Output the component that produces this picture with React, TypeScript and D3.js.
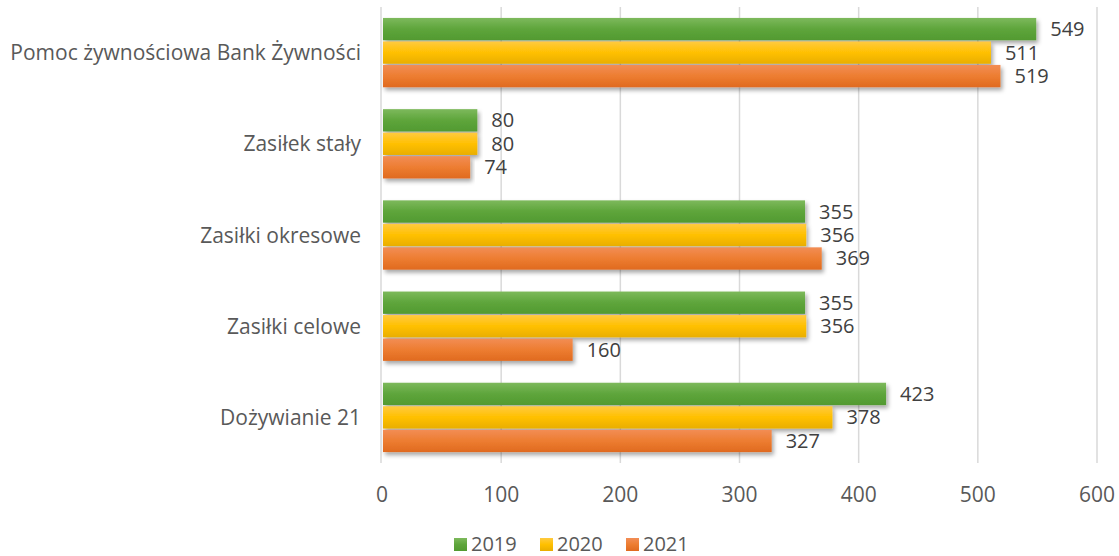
import { useEffect, useRef } from "react";
import * as d3 from "d3";

const categories = [
  "Pomoc żywnościowa Bank Żywności",
  "Zasiłek stały",
  "Zasiłki okresowe",
  "Zasiłki celowe",
  "Dożywianie 21",
];
const years = ["2019", "2020", "2021"];
const values2019 = [549, 80, 355, 355, 423];
const values2020 = [511, 80, 356, 356, 378];
const values2021 = [519, 74, 369, 160, 327];
const xTicks = [0, 100, 200, 300, 400, 500, 600];

const series = [values2019, values2020, values2021];
const colors = [
  ["#7db95c", "#5ea53b", "#529a31"],
  ["#ffca40", "#ffc000", "#e9ae00"],
  ["#f28d55", "#ed7d31", "#e06a1f"],
];

export default function App() {
  const ref = useRef<SVGSVGElement | null>(null);

  useEffect(() => {
    document.body.style.margin = "0";
    const width = 1119;
    const height = 556;
    const margin = { top: 7, right: 22, bottom: 93, left: 382 };
    const font = "'Open Sans', sans-serif";
    const fs = 21;

    const svg = d3.select(ref.current);
    svg.selectAll("*").remove();

    const defs = svg.append("defs");
    colors.forEach((c, i) => {
      const g = defs
        .append("linearGradient")
        .attr("id", `grad${i}`)
        .attr("x1", 0)
        .attr("y1", 0)
        .attr("x2", 0)
        .attr("y2", 1);
      g.append("stop").attr("offset", "0%").attr("stop-color", c[0]);
      g.append("stop").attr("offset", "50%").attr("stop-color", c[1]);
      g.append("stop").attr("offset", "100%").attr("stop-color", c[2]);
    });
    const filter = defs
      .append("filter")
      .attr("id", "shadow")
      .attr("x", "-5%")
      .attr("y", "-30%")
      .attr("width", "110%")
      .attr("height", "170%");
    filter
      .append("feDropShadow")
      .attr("dx", 2)
      .attr("dy", 3)
      .attr("stdDeviation", 2)
      .attr("flood-color", "#000")
      .attr("flood-opacity", 0.35);

    const x = d3
      .scaleLinear()
      .domain([0, 600])
      .range([margin.left, width - margin.right]);

    const y = d3
      .scaleBand()
      .domain(categories)
      .range([margin.top, height - margin.bottom])
      .paddingInner(0.24)
      .paddingOuter(0.12);

    const inner = d3
      .scaleBand()
      .domain(years)
      .range([0, y.bandwidth()])
      .paddingInner(0.05);

    // gridlines
    svg
      .append("g")
      .selectAll("line")
      .data(xTicks.slice(1))
      .join("line")
      .attr("x1", (d) => x(d))
      .attr("x2", (d) => x(d))
      .attr("y1", margin.top)
      .attr("y2", height - margin.bottom)
      .attr("stroke", "#d9d9d9")
      .attr("stroke-width", 1.5);

    svg
      .append("line")
      .attr("x1", x(0) - 1)
      .attr("x2", x(0) - 1)
      .attr("y1", margin.top)
      .attr("y2", height - margin.bottom)
      .attr("stroke", "#d9d9d9")
      .attr("stroke-width", 1.5);

    // bars
    series.forEach((vals, si) => {
      const g = svg.append("g");
      g.selectAll("rect")
        .data(vals)
        .join("rect")
        .attr("x", x(0) + 1)
        .attr("y", (_, i) => (y(categories[i]) ?? 0) + (inner(years[si]) ?? 0))
        .attr("width", (d) => x(d) - x(0) - 1)
        .attr("height", inner.bandwidth())
        .attr("fill", `url(#grad${si})`)
        .attr("filter", "url(#shadow)");
    });

    // value labels
    series.forEach((vals, si) => {
      svg
        .append("g")
        .selectAll("text")
        .data(vals)
        .join("text")
        .attr("x", (d) => x(d) + 14)
        .attr(
          "y",
          (_, i) =>
            (y(categories[i]) ?? 0) + (inner(years[si]) ?? 0) + inner.bandwidth() / 2
        )
        .attr("dy", "0.35em")
        .attr("font-family", font)
        .attr("font-size", 20)
        .attr("fill", "#404040")
        .text((d) => d);
    });

    // category labels
    svg
      .append("g")
      .selectAll("text")
      .data(categories)
      .join("text")
      .attr("x", margin.left - 21)
      .attr("y", (d) => (y(d) ?? 0) + y.bandwidth() / 2)
      .attr("dy", "0.36em")
      .attr("text-anchor", "end")
      .attr("font-family", font)
      .attr("font-size", fs)
      .attr("fill", "#595959")
      .text((d) => d);

    // x tick labels
    svg
      .append("g")
      .selectAll("text")
      .data(xTicks)
      .join("text")
      .attr("x", (d) => x(d))
      .attr("y", height - margin.bottom + 39)
      .attr("text-anchor", "middle")
      .attr("font-family", font)
      .attr("font-size", fs)
      .attr("fill", "#595959")
      .text((d) => d);

    // legend
    const legendX = [454, 540, 626];
    const legend = svg
      .append("g")
      .selectAll("g")
      .data(years)
      .join("g")
      .attr("transform", (_, i) => `translate(${legendX[i]},${height - 12})`);
    legend
      .append("rect")
      .attr("x", 0)
      .attr("y", -6)
      .attr("width", 13)
      .attr("height", 13)
      .attr("fill", (_, i) => `url(#grad${i})`);
    legend
      .append("text")
      .attr("x", 17)
      .attr("y", 0)
      .attr("dy", "0.36em")
      .attr("font-family", font)
      .attr("font-size", 20)
      .attr("fill", "#595959")
      .text((d) => d);
  }, []);

  return <svg ref={ref} width={1119} height={556} style={{ display: "block" }} />;
}
